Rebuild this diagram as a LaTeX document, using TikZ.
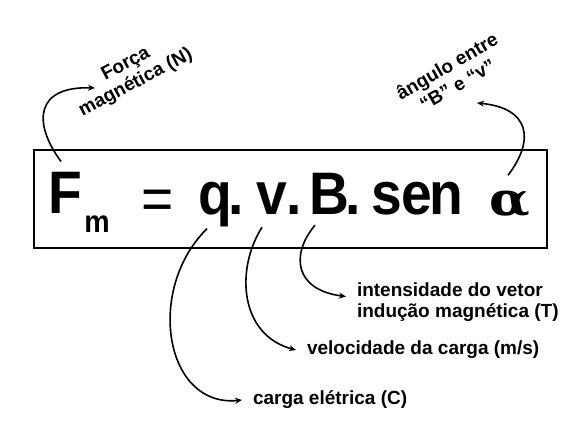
\documentclass[tikz,border=0pt]{standalone}
\usepackage{fontspec}
\setmainfont{Liberation Sans}
\newfontfamily\formfont[FakeStretch=0.92]{Liberation Sans}
\newfontfamily\alphafont[FakeStretch=1.15]{DejaVu Serif}
\usetikzlibrary{arrows.meta,calc}
\begin{document}
\begin{tikzpicture}[x=1pt,y=-1pt,
  glyph/.style={inner sep=0pt, anchor=base},
  big/.style={font=\formfont\bfseries\fontsize{60}{60}\selectfont},
  conn/.style={line width=1.6pt, -{Stealth[length=7pt,width=6pt]}},
  lab/.style={font=\fontsize{19}{21}\selectfont\bfseries, inner sep=0pt, outer xsep=11pt, align=left, anchor=west},
  rlab/.style={font=\fontsize{19}{21}\selectfont\bfseries, inner sep=0pt, align=center}]
\useasboundingbox (0,0) rectangle (577,433);
\fill[white] (0,0) rectangle (577,433);
\node[draw, line width=2.4pt, minimum width=513pt, minimum height=98pt, inner sep=0pt] (box) at (290.5,199) {};
% formula glyphs
\node[glyph, big] (fF) at (65,213) {F};
\node[glyph, font=\formfont\bfseries\fontsize{31}{31}\selectfont] (fm) at (97,232) {m};
\node[glyph, font=\formfont\fontsize{60}{60}\selectfont] (feq) at (157.5,219) {=};
\node[glyph, big] (fq) at (215,214) {q};
\node[glyph, big] (fd1) at (236,214) {.};
\node[glyph, big] (fv) at (271.5,214) {v};
\node[glyph, big] (fd2) at (294,214) {.};
\node[glyph, big] (fB) at (329,214) {B};
\node[glyph, big] (fd3) at (353,214) {.};
\node[glyph, big] (fs) at (386.5,214) {s};
\node[glyph, big] (fe) at (416.5,214) {e};
\node[glyph, big] (fn) at (446.5,214) {n};
\node[glyph, font=\alphafont\bfseries\fontsize{46}{46}\selectfont] (fa) at (510,215) {α};
% labels
\node[rlab, rotate=28] (flab) at (131,74) {Força\\magnética (N)};
\node[rlab, rotate=30] (alab) at (452,75) {ângulo entre\\“B” e “v”};
\node[lab] (ilab) at (346,302.5) {intensidade do vetor\\indução magnética (T)};
\node[lab] (vlab) at (296,350) {velocidade da carga (m/s)};
\node[lab] (clab) at (242,400) {carga elétrica (C)};
\coordinate (ftip) at (95,88);
\coordinate (atip) at (477,103);
% connectors
\draw[conn] ($(fF.north)+(-4,-10)$) .. controls (32,122) and (36,86) .. (ftip);
\draw[conn] ($(fa.north)+(-2,-15)$) .. controls (535,140) and (530,108) .. (atip);
\draw[conn] ($(fq.south)+(-8,2)$) .. controls (145,290) and (165,408) .. (clab.west);
\draw[conn] ($(fv.south)+(-9.5,13)$) .. controls (235,270) and (240,335) .. (vlab.west);
\draw[conn] ($(fB.south)+(-14,11)$) .. controls (290,255) and (295,290) .. ([yshift=6pt]ilab.west);
\end{tikzpicture}
\end{document}
